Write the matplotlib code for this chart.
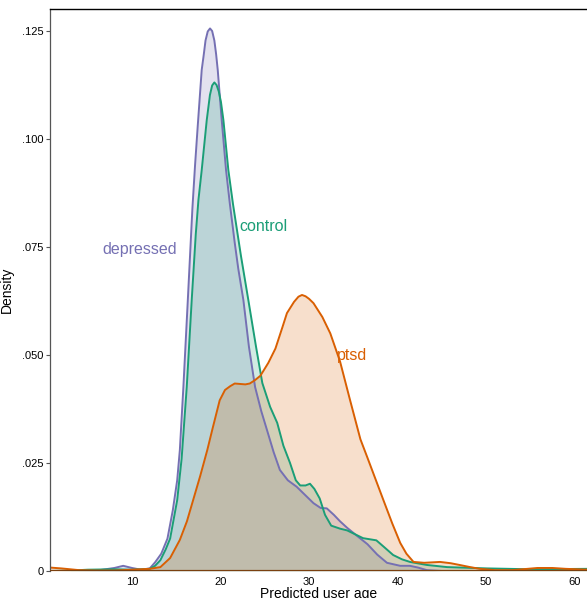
"""Density of predicted user age per group (depressed / control / ptsd)."""
import matplotlib
matplotlib.use("Agg")
import matplotlib.pyplot as plt

plt.rcParams['font.family'] = ['Liberation Sans', 'DejaVu Sans']

# values
depressed_x = [0.7, 3, 6, 8, 9, 10, 11, 12, 12.6, 13.3, 14.0, 14.6, 15.1, 15.4, 15.8,
               16.3, 16.82, 17.12, 17.42, 17.87, 18.1, 18.3, 18.55, 18.81, 19.05, 19.3,
               19.5, 19.68, 20.13, 20.62, 21.05, 21.6, 22.0, 22.58, 23.2, 23.9, 24.6,
               25.25, 26.0, 26.7, 27.6, 28.6, 29.6, 30.5, 31.3, 32.0, 32.8, 33.5, 34.3,
               35.5, 36.6, 37.7, 38.8, 40.3, 41.4, 42.3, 43.3, 45, 50, 55, 61.5]
depressed_y = [0.0, 0.0, 0.0001, 0.0007, 0.0012, 0.0007, 0.0003, 0.0006, 0.002, 0.004,
               0.0075, 0.014, 0.021, 0.028, 0.0426, 0.0627, 0.084, 0.094, 0.103, 0.116,
               0.1195, 0.1228, 0.1249, 0.1256, 0.1250, 0.1228, 0.1196, 0.116, 0.1044,
               0.0928, 0.085, 0.076, 0.070, 0.0627, 0.052, 0.0426, 0.037, 0.0326, 0.0275,
               0.0234, 0.021, 0.0195, 0.0175, 0.0157, 0.0146, 0.0145, 0.013, 0.0115,
               0.010, 0.008, 0.0062, 0.0038, 0.0019, 0.0012, 0.0012, 0.0008, 0.0002, 0.0,
               0.0, 0.0, 0.0]

control_x = [0.7, 3, 5, 8, 10, 12, 12.6, 13.2, 13.8, 14.3, 15.1, 15.6, 16.18, 16.74,
             17.2, 17.5, 17.87, 18.44, 18.8, 19.05, 19.3, 19.55, 19.8, 20.05, 20.32, 20.88,
             21.4, 22.3, 23.14, 24.0, 24.72, 25.6, 26.4, 27.1, 27.85, 28.5, 29.0, 29.6,
             30.1, 30.6, 31.2, 31.8, 32.5, 33.5, 34.3, 35.2, 36.1, 37.6, 38.5, 39.5, 40.5,
             41.4, 43.3, 45.6, 50.1, 55, 61.5]
control_y = [0.0, 0.0001, 0.0003, 0.0004, 0.0003, 0.0005, 0.0012, 0.0025, 0.005, 0.0075,
             0.0164, 0.026, 0.0426, 0.0627, 0.078, 0.0859, 0.0928, 0.1044, 0.1102, 0.1124,
             0.1131, 0.1125, 0.1110, 0.1085, 0.1044, 0.0928, 0.085, 0.073, 0.0627, 0.052,
             0.0435, 0.038, 0.0343, 0.029, 0.025, 0.021, 0.0198, 0.0198, 0.0202, 0.019,
             0.0168, 0.013, 0.0105, 0.0098, 0.0094, 0.0085, 0.0076, 0.0071, 0.0055,
             0.0037, 0.0027, 0.0021, 0.0014, 0.0009, 0.0006, 0.0004, 0.0005]

ptsd_x = [0.7, 2, 4, 6, 8, 10, 11, 12, 13.2, 14.3, 15.4, 16.2, 16.9, 17.7, 18.5, 19.1,
          19.9, 20.5, 21.1, 21.6, 22.2, 22.8, 23.3, 23.9, 24.5, 25.4, 26.2, 27.0, 27.5,
          28.3, 28.8, 29.2, 29.6, 30.0, 30.5, 31.5, 32.4, 33.5, 34.6, 35.8, 36.6, 37.5,
          38.4, 39.4, 40.3, 41.0, 41.8, 43.0, 44.8, 46.0, 47.0, 48.2, 49.3, 51, 53, 55.8,
          57.5, 59, 61.5]
ptsd_y = [0.0008, 0.0006, 0.0002, 0.0001, 0.0001, 0.0003, 0.0004, 0.0005, 0.0009, 0.003,
          0.0072, 0.0115, 0.0164, 0.022, 0.028, 0.033, 0.0395, 0.0419, 0.0428, 0.0434,
          0.0433, 0.0432, 0.0434, 0.0442, 0.0452, 0.0482, 0.0515, 0.0565, 0.0597, 0.0623,
          0.0635, 0.0639, 0.0636, 0.063, 0.062, 0.0588, 0.055, 0.0485, 0.0398, 0.0305,
          0.0262, 0.0213, 0.0164, 0.011, 0.0065, 0.004, 0.0021, 0.0019, 0.0021, 0.0018,
          0.0014, 0.0009, 0.0005, 0.0002, 0.0002, 0.0007, 0.0007, 0.0005, 0.0003]

y_ticks = [0, 0.025, 0.050, 0.075, 0.100, 0.125]
y_tick_labels = ["0", ".025", ".050", ".075", ".100", ".125"]
x_ticks = [10, 20, 30, 40, 50, 60]

groups = [
    ("depressed", depressed_x, depressed_y, "#7570b3", (10.9, 0.0745)),
    ("control", control_x, control_y, "#1b9e77", (24.9, 0.0797)),
    ("ptsd", ptsd_x, ptsd_y, "#d95f02", (34.9, 0.0500)),
]

fig = plt.figure(figsize=(5.87, 5.98), dpi=100)
ax = fig.add_axes([50 / 587, 27 / 598, 537 / 587, 562 / 598])

for name, xs, ys, col, (tx, ty) in groups:
    ax.fill_between(xs, ys, 0, color=col, alpha=0.2, linewidth=0)
    ax.plot(xs, ys, color=col, lw=1.4, solid_joinstyle="round")
    ax.text(tx, ty, name, color=col, fontsize=11.5, ha="center", va="center")

# baseline where the outlines run along zero
ax.axhline(0, color="#7a4010", lw=1.6, zorder=5)

ax.set_xlim(0.73, 61.4)
ax.set_ylim(0, 0.1301)
ax.set_yticks(y_ticks)
ax.set_yticklabels(y_tick_labels)
ax.set_xticks(x_ticks)
ax.tick_params(axis="y", length=3, width=0.8, color="#555555", labelsize=8, pad=1.5)
ax.tick_params(axis="x", length=0, labelsize=8, pad=4)

ax.spines["right"].set_visible(False)
ax.spines["bottom"].set_visible(False)
ax.spines["top"].set_color("black")
ax.spines["top"].set_linewidth(1.0)
ax.spines["left"].set_color("#555555")
ax.spines["left"].set_linewidth(0.9)

ax.set_xlabel("Predicted user age", fontsize=10, labelpad=0)
ax.set_ylabel("Density", fontsize=10, labelpad=6)

fig.savefig("out.png", dpi=100)
plt.close(fig)
